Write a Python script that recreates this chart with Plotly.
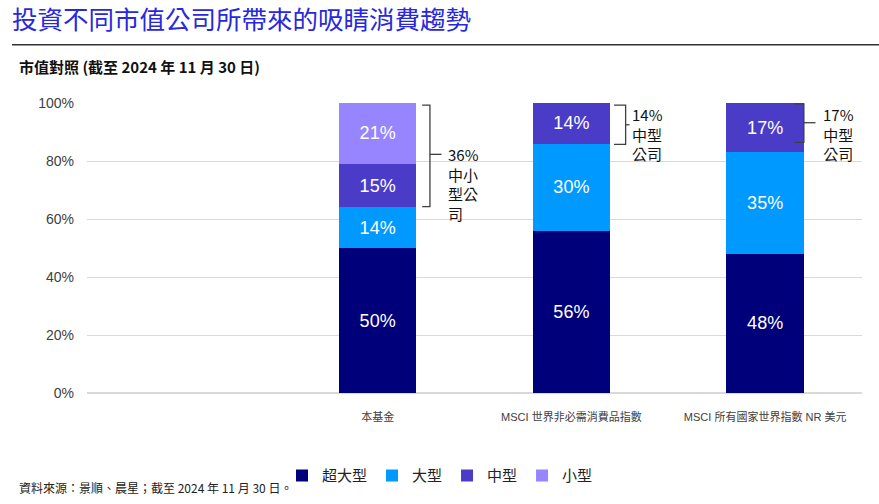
import plotly.graph_objects as go

categories = ["本基金", "MSCI 世界非必需消費品指數", "MSCI 所有國家世界指數 NR 美元"]
positions = [1, 2, 3]
series_names = ["超大型", "大型", "中型", "小型"]
mega = [50, 56, 48]
large = [14, 30, 35]
mid = [15, 14, 17]
small = [21, None, None]
colors = ["#00007A", "#0099FF", "#4B3CC8", "#9685FF"]
bracket_labels = ["36%<br>中小<br>型公<br>司", "14%<br>中型<br>公司", "17%<br>中型<br>公司"]
y_ticks = [0, 20, 40, 60, 80, 100]
y_tick_labels = [f"{v}%" for v in y_ticks]

FONT = "Liberation Sans, Arial, Noto Sans CJK TC, sans-serif"
CJK = "Noto Sans CJK TC, Liberation Sans, sans-serif"

fig = go.Figure()
for name, vals, col in zip(series_names, [mega, large, mid, small], colors):
    fig.add_trace(go.Bar(
        x=positions, y=vals, name=name, marker=dict(color=col, line=dict(width=0)),
        width=0.4, text=vals, texttemplate="%{text}%", textposition="inside",
        insidetextanchor="middle", textfont=dict(color="white", size=18, family=FONT),
        constraintext="none",
    ))

line_style = dict(color="#404040", width=1.3)

def bracket(x_in, x_out, x_tick, y_top, y_bot, y_mid):
    path = f"M {x_in},{y_top} L {x_out},{y_top} L {x_out},{y_bot} L {x_in},{y_bot}"
    fig.add_shape(type="path", path=path, xref="x", yref="y", line=line_style)
    fig.add_shape(type="line", x0=x_out, x1=x_tick, y0=y_mid, y1=y_mid, xref="x", yref="y", line=line_style)

bracket(positions[0] + 0.23, positions[0] + 0.27, positions[0] + 0.33, 99.3, 64.3, 82.3)
bracket(positions[1] + 0.22, positions[1] + 0.28, positions[1] + 0.30, 99.3, 85.7, 92.5)
bracket(positions[2] + 0.15, positions[2] + 0.20, positions[2] + 0.26, 99.7, 86.4, 93.2)

fig.add_annotation(x=positions[0] + 0.355, y=0.867, xref="x", yref="paper", text=bracket_labels[0],
                   showarrow=False, xanchor="left", yanchor="top", align="left",
                   font=dict(size=15, color="#111", family=CJK))
fig.add_annotation(x=positions[1] + 0.30, y=1.003, xref="x", yref="paper", text=bracket_labels[1],
                   showarrow=False, xanchor="left", yanchor="top", align="left",
                   font=dict(size=15, color="#111", family=CJK))
fig.add_annotation(x=positions[2] + 0.38, y=1.003, xref="x", yref="paper", text=bracket_labels[2],
                   showarrow=False, xanchor="center", yanchor="top", align="center",
                   font=dict(size=15, color="#111", family=CJK))

# header line
fig.add_shape(type="line", xref="paper", yref="paper", x0=-0.0968, x1=1.022, y0=1.2007, y1=1.2007,
              line=dict(color="#333333", width=1.5))
# subtitle
fig.add_annotation(xref="paper", yref="paper", x=(17 - 87) / 775, y=(397 - 66) / 294,
                   xanchor="left", yanchor="middle", showarrow=False,
                   text="<b>市值對照 (截至 2024 年 11 月 30 日)</b>",
                   font=dict(size=15, color="#111", family=CJK))
# source
fig.add_annotation(xref="paper", yref="paper", x=(17 - 87) / 775, y=(397 - 493) / 294,
                   xanchor="left", yanchor="middle", showarrow=False,
                   text="資料來源：景順、晨星；截至 2024 年 11 月 30 日。",
                   font=dict(size=12, color="#222", family=CJK))

fig.update_layout(
    width=879, height=504,
    margin=dict(l=87, r=17, t=103, b=107),
    paper_bgcolor="white", plot_bgcolor="white",
    barmode="stack",
    title=dict(text="投資不同市值公司所帶來的吸睛消費趨勢", xref="container", yref="container",
               x=12 / 879, y=1 - 20 / 504, xanchor="left", yanchor="middle",
               font=dict(size=25.5, color="#2828DC", family=CJK)),
    xaxis=dict(range=[-0.5, 3.5], tickvals=positions, ticktext=categories, showgrid=False,
               showline=False, zeroline=False, ticks="", ticklabelstandoff=16,
               tickfont=dict(size=11, color="#404040", family=FONT)),
    yaxis=dict(range=[0, 100], tickvals=y_ticks, ticktext=y_tick_labels, showgrid=True,
               gridcolor="#D9D9D9", gridwidth=1, zeroline=True, zerolinecolor="#D9D9D9",
               showline=False, ticks="", ticklabelstandoff=12,
               tickfont=dict(size=14, color="#404040", family=FONT)),
    legend=dict(orientation="h", x=(440 - 87) / 775, xanchor="center", y=(397 - 481) / 294,
                yanchor="middle", font=dict(size=15, color="#222", family=CJK),
                traceorder="normal", itemwidth=30, tracegroupgap=0,
                bgcolor="rgba(0,0,0,0)"),
    showlegend=True,
)

fig.write_html("out.html")
